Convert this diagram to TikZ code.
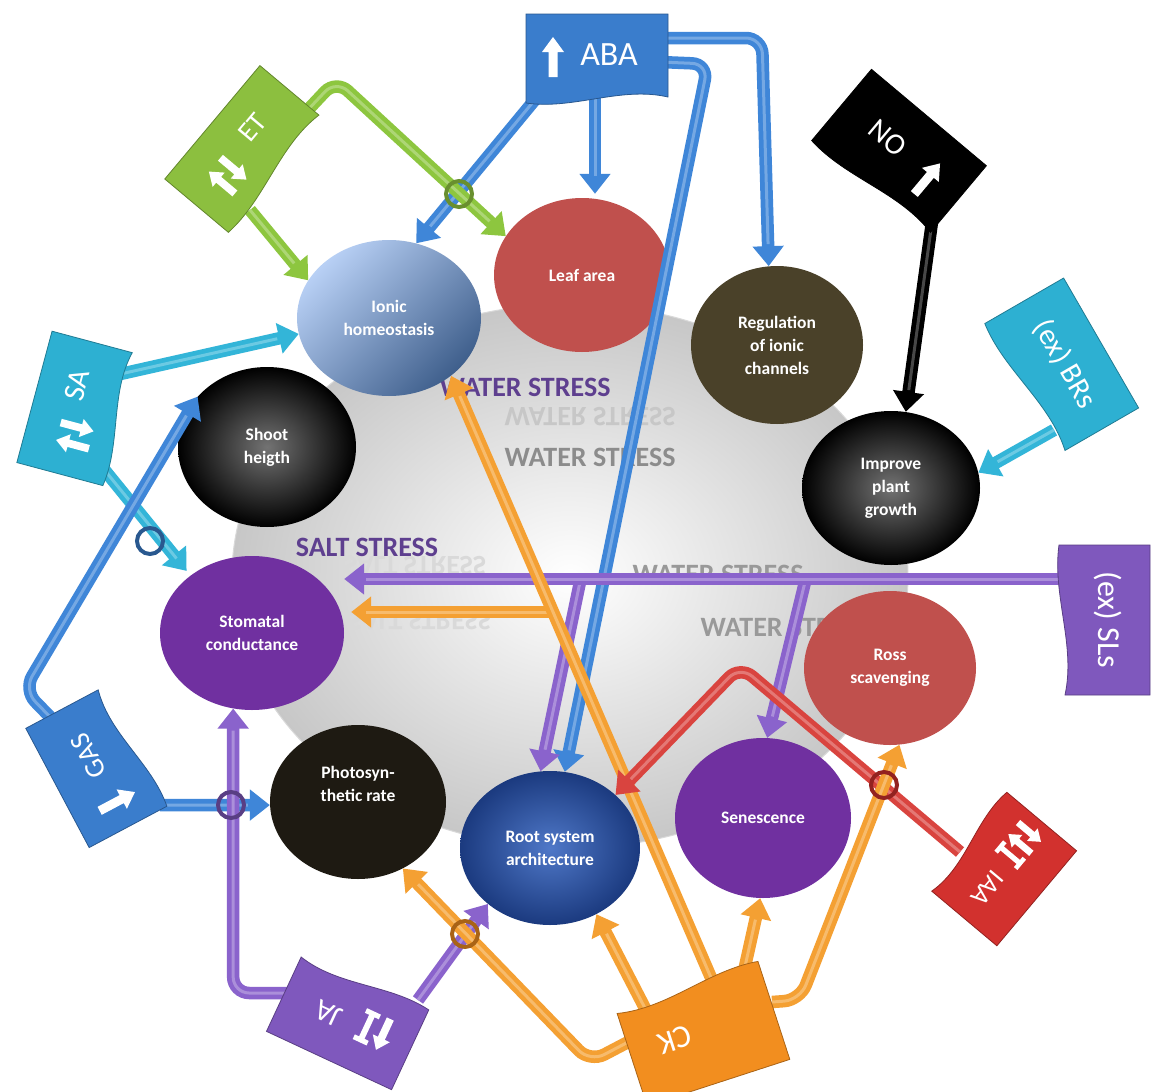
\documentclass[tikz,border=0pt]{standalone}
\usepackage{fontspec}
\setmainfont{Carlito}
\usetikzlibrary{shapes.geometric,arrows.meta,calc}
\definecolor{abaC}{HTML}{3F86D8}\definecolor{abaB}{HTML}{3A7DCC}
\definecolor{etC}{HTML}{8DC63F}\definecolor{etB}{HTML}{8CBF3F}
\definecolor{saC}{HTML}{33B5D8}\definecolor{saB}{HTML}{2DB0D2}
\definecolor{jaC}{HTML}{8A63CC}\definecolor{jaB}{HTML}{7F58BD}
\definecolor{ckC}{HTML}{F4A033}\definecolor{ckB}{HTML}{F28E1F}
\definecolor{iaaC}{HTML}{D9443F}\definecolor{iaaB}{HTML}{D2312E}
\definecolor{redE}{HTML}{C0504D}\definecolor{purE}{HTML}{7030A0}
\definecolor{oliveE}{HTML}{4A4129}\definecolor{phoE}{HTML}{1E1A12}
\definecolor{ionL}{HTML}{B8D0F5}\definecolor{ionD}{HTML}{3F5F8C}
\definecolor{rootL}{HTML}{4F78C8}\definecolor{rootD}{HTML}{1B3A7F}
\definecolor{stressP}{HTML}{5E3F8F}
\newcommand\boxshape[3]{%
  \path[fill=#3, draw=#3!70!black, line width=0.8pt] ({-#1/2},{-#2/2}) -- ({#1/2},{-#2/2}) -- ({#1/2},{#2/2-3})
   .. controls ({#1/6},{#2/2-14}) and ({-#1/6},{#2/2+10}) .. ({-#1/2},{#2/2+3}) -- cycle;}
\newcommand\bup[3][1]{\fill[white] ({#2-4.5*#1},{#3+20*#1}) -- ({#2-4.5*#1},{#3-5*#1}) -- ({#2-11*#1},{#3-5*#1}) -- ({#2},{#3-20*#1}) -- ({#2+11*#1},{#3-5*#1}) -- ({#2+4.5*#1},{#3-5*#1}) -- ({#2+4.5*#1},{#3+20*#1}) -- cycle;}
\newcommand\bdn[3][1]{\fill[white] ({#2-4.5*#1},{#3-20*#1}) -- ({#2-4.5*#1},{#3+5*#1}) -- ({#2-11*#1},{#3+5*#1}) -- ({#2},{#3+20*#1}) -- ({#2+11*#1},{#3+5*#1}) -- ({#2+4.5*#1},{#3+5*#1}) -- ({#2+4.5*#1},{#3-20*#1}) -- cycle;}
\newcommand\ibeam[3][1]{\fill[white] ({#2-3.5*#1},{#3-20*#1}) rectangle ({#2+3.5*#1},{#3+20*#1}) ({#2-9*#1},{#3-20*#1}) rectangle ({#2+9*#1},{#3-14*#1}) ({#2-9*#1},{#3+14*#1}) rectangle ({#2+9*#1},{#3+20*#1});}
\begin{document}
\begin{tikzpicture}[x=1pt,y=-1pt,
  blob/.style={ellipse, inner sep=0pt, text=white, align=center, font=\fontsize{17.5}{23}\selectfont\bfseries},
  blobtext/.style={inner sep=0pt, text=white, align=center, font=\fontsize{17.5}{23}\selectfont\bfseries},
  tube/.style={line width=12.5pt, draw=#1, -{Triangle[width=30pt,length=20pt]}, rounded corners=16pt,
     postaction={draw=#1!72!white, line width=3pt, -, shorten >=22pt}},
  boxlab/.style={text=white, inner sep=0pt},
  ring/.style={draw=#1, line width=4pt},
  stress/.style={font=\fontsize{28}{28}\selectfont\bfseries, inner sep=0pt}]
\useasboundingbox (0,0) rectangle (1152,1092);
\fill[white] (0,0) rectangle (1152,1092);
% central disc
\shade[inner color=white, outer color=black!22] (570,576) ellipse [x radius=338pt, y radius=272pt];
\draw[black!15, line width=1pt] (570,576) ellipse [x radius=338pt, y radius=272pt];
% stress labels
\node[stress, text=black!22, yscale=-1] (ws1r) at (590,417) {WATER STRESS};
\node[stress, text=stressP] (ws1) at (525,387) {WATER STRESS};
\node[stress, text=black!45] (ws2) at (590,457) {WATER STRESS};
\node[stress, text=black!15, yscale=-1] (ss1r) at (415,566) {SALT STRESS};
\node[stress, text=stressP] (ss1) at (367,547) {SALT STRESS};
\node[stress, text=black!15, yscale=-1] (ss2r) at (420,621) {SALT STRESS};
\node[stress, text=black!40] (ws3) at (718,574) {WATER STRESS};
\node[stress, text=black!40] (ws4) at (786,627) {WATER STRESS};
% effect ellipses
\node[blob, minimum width=184pt, minimum height=156pt, top color=ionL, bottom color=ionD, shading angle=45] (ion) at (389,318) {Ionic\\homeostasis};
\node[blob, minimum width=176pt, minimum height=154pt, fill=redE] (leaf) at (582,275) {Leaf area};
\node[blob, minimum width=172pt, minimum height=158pt, fill=oliveE] (reg) at (777,345) {Regulation\\of ionic\\channels};
\node[blob, minimum width=178pt, minimum height=154pt, inner color=black!55, outer color=black] (imp) at (891,488) {Improve\\plant\\growth};
\node[blob, minimum width=172pt, minimum height=154pt, fill=redE] (ross) at (890,668) {Ross\\scavenging};
\node[blob, minimum width=176pt, minimum height=160pt, fill=purE] (sen) at (763,818) {Senescence};
\node[blob, minimum width=180pt, minimum height=154pt, inner color=rootL, outer color=rootD] (root) at (550,848) {Root system\\architecture};
\node[blob, minimum width=176pt, minimum height=154pt, fill=phoE] (pho) at (358,802) {};
\node[blobtext] (phoT) at (358,784) {Photosyn-\\thetic rate};
\node[blob, minimum width=184pt, minimum height=154pt, fill=purE] (sto) at (252,633) {Stomatal\\conductance};
\node[blob, minimum width=178pt, minimum height=160pt, inner color=black!55, outer color=black] (sho) at (267,447) {Shoot\\heigth};
% connector start points on the hormone boxes
\coordinate (aba1) at (538,96); \coordinate (aba2) at (595,96);
\coordinate (aba3) at (660,38);  \coordinate (aba4) at (660,62);
\coordinate (et1) at (304,114);  \coordinate (et2) at (250,210);
\coordinate (sa1) at (116,375);  \coordinate (sa2) at (98,462);
\coordinate (gas1) at (55,722);  \coordinate (gas2) at (160,805);
\coordinate (ja1) at (290,993);  \coordinate (ja2) at (418,1000);
\coordinate (ck1) at (712,980);  \coordinate (ck2) at (556,612);
\coordinate (ck3) at (632,1040); \coordinate (ck4) at (648,1014);
\coordinate (ck5) at (742,980);  \coordinate (ck6) at (772,1002);
\coordinate (iaa1) at (960,852);
\coordinate (sls1) at (1070,579); \coordinate (sls2) at (805,582); \coordinate (sls3) at (580,582);
\coordinate (no1) at (932,222);  \coordinate (brs1) at (1054,430);
% ABA
\draw[tube=abaC] (aba1) -- (ion.70);
\draw[tube=abaC, shorten >=4pt] (aba2) -- (aba2 |- leaf.north);
\draw[tube=abaC] (aba3) -- (762,38) -- (reg.96);
\draw[tube=abaC] (aba4) -- (708,64) -- (root.79);
% ET
\draw[tube=etC] (et1) -- (336,80) -- (leaf.153);
\draw[tube=etC] (et2) -- (ion.155);
% SA
\draw[tube=saC] (sa1) -- (ion.190);
\draw[tube=saC, shorten >=6pt] (sa2) -- (sto.137);
% GAS
\draw[tube=abaC] (gas1) -- (24,690) -- (sho.144);
\draw[tube=abaC] (gas2) -- (pho.182);
% JA
\draw[tube=jaC] (ja1) -| (sto.256);
\draw[tube=jaC] (ja2) -- (root.222);
% SLs
\draw[tube=jaC] (sls2) -- (sen.87);
\draw[tube=jaC] (sls3) -- (root.97);
\draw[tube=jaC] (sls1) -- (sls1 -| sto.east);
% CK
\draw[tube=ckC, shorten >=7pt] (ck2) -- (ck2 -| sto.east);
\draw[tube=ckC] (ck1) -- (ion.317);
\draw[tube=ckC] (ck3) -- (590,1062) -- (pho.304);
\draw[tube=ckC] (ck4) -- (root.305);
\draw[tube=ckC] (ck5) -- (sen.268);
% IAA
\draw[tube=iaaC] (iaa1) -- (740,666) -- (root.39);
\draw[tube=ckC] (ck6) -- (800,1000) -- (ross.277);
% NO and BRs
\draw[tube=black] (no1) -- (imp.79);
\draw[tube=saC] (brs1) -- (imp.10);
% crossing rings
\draw[ring=etB!75!black] (459,194) circle[radius=13pt];
\draw[ring=abaB!70!black] (150,541) circle[radius=13pt];
\draw[ring=jaB!70!black] (231,805) circle[radius=13pt];
\draw[ring=ckB!70!black] (465,934) circle[radius=13pt];
\draw[ring=iaaB!70!black] (884,785) circle[radius=13pt];
% hormone boxes
\begin{scope}[shift={(597,57)}]
 \boxshape{142}{86}{abaB}
 \bup{-44}{0}
 \node[boxlab, font=\fontsize{34}{34}\selectfont] (abaT) at (12,-2) {ABA};
\end{scope}
\begin{scope}[shift={(243,148)}, rotate=50]
 \boxshape{148}{80}{etB}
 \bup[0.85]{-40}{6} \bdn[0.85]{-22}{6}
 \node[boxlab, rotate=50, font=\fontsize{28}{28}\selectfont] (etT) at (22,-6) {ET};
\end{scope}
\begin{scope}[shift={(76,408)}, rotate=75]
 \boxshape{136}{86}{saB}
 \bup[0.85]{-36}{6} \bdn[0.85]{-18}{6}
 \node[boxlab, rotate=75, font=\fontsize{30}{30}\selectfont] (saT) at (22,-5) {SA};
\end{scope}
\begin{scope}[shift={(95,768)}, rotate=118]
 \boxshape{135}{85}{abaB}
 \bdn{-40}{4}
 \node[boxlab, rotate=118, font=\fontsize{28}{28}\selectfont] (gasT) at (14,0) {GAS};
\end{scope}
\begin{scope}[shift={(347,1022)}, rotate=155]
 \boxshape{138}{85}{jaB}
 \bup[0.85]{-38}{4} \ibeam[0.85]{-20}{4}
 \node[boxlab, rotate=155, font=\fontsize{30}{30}\selectfont] (jaT) at (20,0) {JA};
\end{scope}
\begin{scope}[shift={(703,1035)}, rotate=198]
 \boxshape{150}{100}{ckB}
 \node[boxlab, rotate=198, font=\fontsize{32}{32}\selectfont] (ckT) at (28,4) {CK};
\end{scope}
\begin{scope}[shift={(1003,870)}, rotate=230]
 \boxshape{124}{88}{iaaB}
 \bup[0.75]{-46}{4} \bdn[0.75]{-31}{4} \ibeam[0.75]{-16}{4}
 \node[boxlab, rotate=230, font=\fontsize{26}{26}\selectfont] (iaaT) at (24,0) {IAA};
\end{scope}
\begin{scope}[shift={(1106,620)}, rotate=-90]
 \boxshape{150}{88}{jaB}
 \node[boxlab, rotate=-90, font=\fontsize{32}{32}\selectfont] (slsT) at (0,-2) {(ex) SLs};
\end{scope}
\begin{scope}[shift={(1063,365)}, rotate=-60]
 \boxshape{150}{88}{saB}
 \node[boxlab, rotate=-60, font=\fontsize{30}{30}\selectfont] (brsT) at (0,-2) {(ex) BRs};
\end{scope}
\begin{scope}[shift={(900,152)}, rotate=-40]
 \boxshape{150}{90}{black}
 \node[boxlab, rotate=-40, font=\fontsize{30}{30}\selectfont] (noT) at (-18,-3) {NO};
 \bup{38}{3}
\end{scope}
\end{tikzpicture}
\end{document}
